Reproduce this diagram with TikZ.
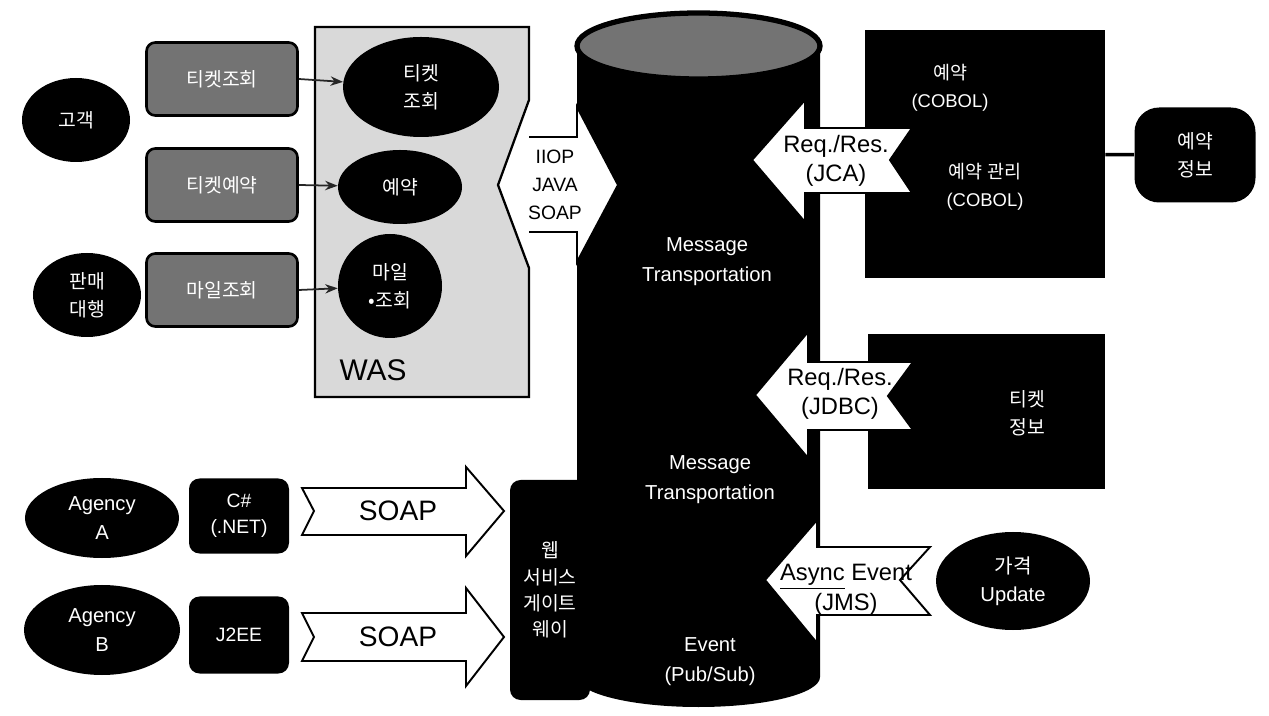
\documentclass[tikz,border=0pt]{standalone}
\usepackage{fontspec}
\setmainfont{Liberation Sans}
\newfontfamily\kr{Noto Sans CJK KR}
\usetikzlibrary{shapes.geometric, arrows.meta, positioning}

\begin{document}
\begin{tikzpicture}[
    x=0.2mm, y=-0.2mm,
    darkell/.style={ellipse, fill=black, text=white, align=center, inner sep=0pt, font=\kr\fontsize{11}{16}\selectfont},
    graybox/.style={rectangle, rounded corners=5pt, draw=black, line width=1.5pt, fill=black!55, text=white, align=center, minimum width=3.02cm, minimum height=1.46cm, font=\kr\fontsize{11}{14}\selectfont},
    blackbox/.style={rectangle, fill=black, text=white, align=center},
    fatarrow/.style={draw=black, fill=white, line width=1.1pt, line join=miter},
    arrlabel/.style={align=center, inner sep=0pt, font=\fontsize{13.5}{16.5}\selectfont},
    cyltext/.style={align=center, text=white, inner sep=0pt, font=\fontsize{11.5}{17}\selectfont},
    krtext/.style={align=center, text=white, inner sep=0pt, font=\kr\fontsize{11}{16}\selectfont},
    arrow/.style={-{Stealth[length=2.5mm]}, line width=1pt, black!85}
]
\useasboundingbox (0,0) rectangle (1269,716);

% Left: clients and screens
\node[darkell, minimum width=2.16cm, minimum height=1.68cm] (cust) at (76,120) {고객};
\node[darkell, minimum width=2.16cm, minimum height=1.68cm] (agent) at (87,295) {판매\\대행};
\node[graybox] (b1) at (222,79) {티켓조회};
\node[graybox] (b2) at (222,185) {티켓예약};
\node[graybox] (b3) at (222,290) {마일조회};

% WAS with notch for the arrow tail
\filldraw[fill=black!15, draw=black, line width=1.3pt] (315,27) -- (529,27) -- (529,100) -- (498,185)
    -- (529,268) -- (529,397) -- (315,397) -- cycle;
\node[darkell, minimum width=3.12cm, minimum height=2cm] (e1) at (421,87) {티켓\\조회};
\node[darkell, minimum width=2.48cm, minimum height=1.48cm] (e2) at (400,187) {예약};
\node[darkell, minimum width=2.08cm, minimum height=2.08cm] (e3) at (390,286) {마일\\•조회};
\node[font=\fontsize{17}{20}\selectfont] (was) at (373,370) {WAS};

\draw[arrow] (b1.east) -- (e1);
\draw[arrow] (b2.east) -- (e2);
\draw[arrow] (b3.east) -- (e3);

% Bus cylinder
\fill[black] (577,46) -- (577,677) arc[start angle=180, end angle=0, x radius=121.5, y radius=30]
    -- (820,46) -- cycle;
\filldraw[fill=black!55, draw=black, line width=3pt] (698.5,46) ellipse[x radius=121.5, y radius=33];
\node[cyltext] (mt1) at (707,262) {Message\\Transportation};
\node[cyltext] (mt2) at (710,480) {Message\\Transportation};
\node[cyltext] (evt) at (710,662) {Event\\(Pub/Sub)};

% Gateway
\node[blackbox, rounded corners=6pt, minimum width=1.6cm, minimum height=4.4cm,
      font=\kr\fontsize{11}{15}\selectfont] (gw) at (550,590) {웹\\서비스\\게이트\\웨이};

% WAS -> bus
\fill[white] (529,137) -- (577,137) -- (577,107) -- (618,185) -- (577,262) -- (577,232) -- (529,232) -- cycle;
\draw[fatarrow, fill=none] (529,137) -- (577,137) -- (577,107) -- (618,185) -- (577,262) -- (577,232) -- (529,232);
\node[align=center, inner sep=0pt, font=\fontsize{11}{16}\selectfont] (iiop) at (555,185) {IIOP\\JAVA\\SOAP};

% Right: legacy systems
\node[blackbox, minimum width=4.8cm, minimum height=4.96cm] (host) at (985,154) {};
\node[krtext, font=\fontsize{10.5}{16}\selectfont] (cob1) at (950,88) {{\kr 예약}\\(COBOL)};
\node[krtext, font=\fontsize{10.5}{16}\selectfont] (cob2) at (985,187) {{\kr 예약 관리}\\(COBOL)};
\node[blackbox, rounded corners=14pt, minimum width=2.42cm, minimum height=1.9cm,
      font=\kr\fontsize{11}{16}\selectfont] (store) at (1195,155) {예약\\정보};
\draw[line width=2pt] (host) -- (store);

\node[blackbox, minimum width=4.74cm, minimum height=3.1cm] (tdb) at (986,412) {};
\node[krtext] (tinfo) at (1027,413) {티켓\\정보};

\node[darkell, font=\fontsize{11.5}{16}\selectfont, minimum width=3.08cm, minimum height=1.96cm] (price) at (1013,581) {{\kr 가격}\\Update};

% Bus <- legacy
\filldraw[fatarrow] (752,160) -- (805,100) -- (805,128) -- (912,128) -- (890,160) -- (912,193)
    -- (805,193) -- (805,222) -- cycle;
\node[arrlabel] (jca) at (836,161) {Req./Res.\\(JCA)};
\filldraw[fatarrow] (755,395) -- (808,332) -- (808,362) -- (913,362) -- (888,396) -- (913,430)
    -- (808,430) -- (808,458) -- cycle;
\node[arrlabel] (jdbc) at (840,394) {Req./Res.\\(JDBC)};
\filldraw[fatarrow] (765,580) -- (817,520) -- (817,547) -- (930,547) -- (900,580) -- (930,615)
    -- (817,615) -- (817,643) -- cycle;
\node[arrlabel, font=\fontsize{13.5}{17}\selectfont] (jms) at (846,590) {\underline{Async} Event\\(JMS)};

% Bottom left: agencies
\node[darkell, font=\fontsize{11.5}{16}\selectfont, minimum width=3.08cm, minimum height=1.6cm] (agA) at (102,518) {Agency\\A};
\node[darkell, font=\fontsize{11.5}{16}\selectfont, minimum width=3.12cm, minimum height=1.8cm] (agB) at (102,630) {Agency\\B};
\node[blackbox, rounded corners=6pt, minimum width=2cm, minimum height=1.5cm, font=\fontsize{11}{15}\selectfont] (net) at (239,516) {C\#\\(.NET)};
\node[blackbox, rounded corners=6pt, minimum width=2cm, minimum height=1.54cm, font=\fontsize{11}{15}\selectfont] (j2ee) at (239,635) {J2EE};

\filldraw[fatarrow] (302,488) -- (466,488) -- (466,467) -- (504,511) -- (466,556) -- (466,535)
    -- (302,535) -- (314,511) -- cycle;
\node[font=\fontsize{16}{18}\selectfont] (soap1) at (398,511) {SOAP};
\filldraw[fatarrow] (302,613) -- (466,613) -- (466,588) -- (504,637) -- (466,686) -- (466,661)
    -- (302,661) -- (314,637) -- cycle;
\node[font=\fontsize{16}{18}\selectfont] (soap2) at (398,637) {SOAP};
\end{tikzpicture}
\end{document}
